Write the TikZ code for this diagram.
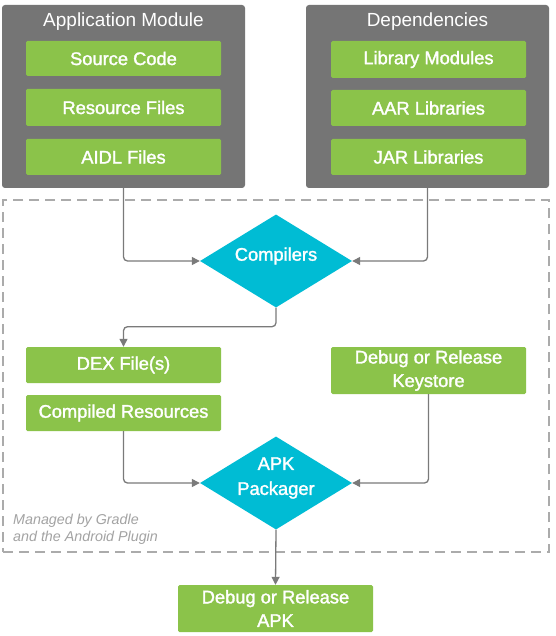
\documentclass[tikz,border=0pt]{standalone}
\usepackage{fontspec}
\setmainfont{Liberation Sans}
\newfontfamily\medfont{Liberation Sans}[FakeBold=1.6]
\usetikzlibrary{shapes.geometric,arrows.meta}
\definecolor{modgray}{HTML}{757575}
\definecolor{lgreen}{HTML}{8BC34A}
\definecolor{cyanc}{HTML}{00BCD4}
\definecolor{dashg}{HTML}{ABABAB}
\definecolor{notegray}{HTML}{A3A3A3}
\definecolor{arrgray}{HTML}{7A7A7A}
\begin{document}
\begin{tikzpicture}[x=1pt,y=-1pt,
  modbox/.style={fill=modgray, draw=none, rounded corners=3pt, minimum width=243pt, minimum height=183pt, inner sep=0pt},
  modtitle/.style={text=white, font=\fontsize{19}{22}\selectfont, inner sep=0pt},
  greenbox/.style={fill=lgreen, draw=none, rounded corners=1.5pt, text=white, minimum width=195pt, inner sep=0pt, align=center, font=\medfont\fontsize{18.3}{23.5}\selectfont},
  tooldiamond/.style={diamond, fill=cyanc, draw=none, inner sep=0pt, minimum width=152pt, minimum height=93pt},
  difflabel/.style={text=white, align=center, inner sep=0pt, font=\medfont\fontsize{18.3}{25}\selectfont},
  conn/.style={draw=arrgray, line width=1.3pt, rounded corners=4pt, -{Triangle[length=8pt,width=8pt]}},
  framebox/.style={draw=dashg, line width=1.6pt, dash pattern=on 10pt off 6pt, minimum width=546pt, minimum height=352pt, inner sep=0pt},
  notetext/.style={text=notegray, font=\itshape\fontsize{14.3}{17}\selectfont, align=left, inner sep=0pt}
]
\useasboundingbox (0,0) rectangle (555,636);
\fill[white] (0,0) rectangle (555,636);

% frame managed by gradle
\node[framebox] (frame) at (276,376) {};
\node[notetext, anchor=west] (note) at (13,529.5) {Managed by Gradle\\and the Android Plugin};

% module boxes
\node[modbox] (appmod) at (123.5,96.5) {};
\node[modbox] (deps) at (427.5,96.5) {};
\node[modtitle] (apptitle) at (123.5,22) {Application Module};
\node[modtitle] (deptitle) at (427.5,22) {Dependencies};

\node[greenbox, minimum height=35pt] (src) at (123.5,58.5) {Source Code};
\node[greenbox, minimum height=37pt] (res) at (123.5,107.5) {Resource Files};
\node[greenbox, minimum height=36pt] (aidl) at (123.5,157) {AIDL Files};

\node[greenbox, minimum height=37pt] (lib) at (428.5,59.5) {Library Modules};
\node[greenbox, minimum height=36pt] (aar) at (428.5,108) {AAR Libraries};
\node[greenbox, minimum height=36pt] (jar) at (428.5,157) {JAR Libraries};

% tools
\node[tooldiamond] (comp) at (276,261) {};
\node[difflabel] (complabel) at (276,256) {Compilers};
\node[tooldiamond] (pack) at (276,483) {};
\node[difflabel] (packlabel) at (276,478) {APK\\Packager};

% intermediates
\node[greenbox, minimum height=36pt] (dex) at (123.5,365) {DEX File(s)};
\node[greenbox, minimum height=36pt] (cres) at (123.5,413) {Compiled Resources};
\node[greenbox, minimum height=47pt] (keys) at (428.5,370.5) {Debug or Release\\Keystore};

% output
\node[greenbox, minimum height=47pt] (apk) at (275.5,608.5) {Debug or Release\\APK};

% connectors
\draw[conn] (appmod.south) |- (comp.west);
\draw[conn] (deps.south) |- (comp.east);
\draw[conn] (comp.south) -- ++(0,19) -| (dex.north);
\draw[conn] (cres.south) |- (pack.west);
\draw[conn] (keys.south) |- (pack.east);
\draw[conn] (pack.south) -- (apk.north);
\end{tikzpicture}
\end{document}
